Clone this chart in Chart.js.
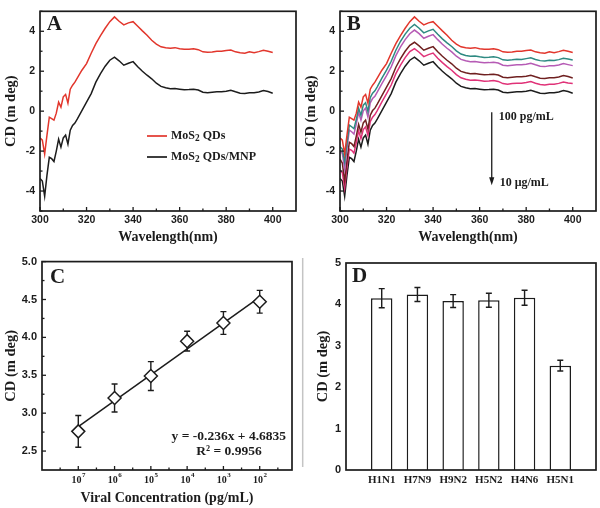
<!DOCTYPE html>
<html><head><meta charset="utf-8">
<script src="https://cdn.jsdelivr.net/npm/chart.js@4.4.1/dist/chart.umd.min.js"></script>
<style>
html,body{margin:0;padding:0;background:#fff;}
#wrap{position:relative;width:600px;height:508px;overflow:hidden;background:#fff;}
canvas{position:absolute;}
</style></head><body>
<div id="wrap">
<canvas id="cA" width="300" height="250" style="left:0;top:0"></canvas>
<canvas id="cB" width="300" height="250" style="left:300px;top:0"></canvas>
<canvas id="cC" width="300" height="258" style="left:0;top:250px"></canvas>
<canvas id="cD" width="300" height="258" style="left:300px;top:250px"></canvas>
</div>
<script>
// ---------- DATA ----------
const wavelengths = [300,301,302,303,304,305,306,307,308,309,310,311,312,313,314,315,316,
  318,320,322,324,326,328,330,332,334,336,338,340,342,344,346,348,350,352,354,356,
  358,360,362,364,366,368,370,372,374,376,378,380,382,384,386,388,390,392,394,396,398,400];

// Panel A / B : CD spectra (m deg)
const mos2QDs = [-1.34,-1.45,-2.15,-1.2,-0.3,-0.37,-0.45,-0.1,0.45,0.2,0.72,0.84,0.4,1.1,1.3,1.45,1.65,
  2.05,2.38,2.9,3.38,3.78,4.15,4.48,4.72,4.5,4.32,
  4.42,4.48,4.25,4.02,3.8,3.55,3.36,3.22,3.17,3.15,
  3.18,3.12,3.1,3.1,3.12,3.08,2.97,2.95,2.96,3.0,
  3.0,3.04,3.06,2.97,2.92,2.9,2.97,2.93,2.98,3.05,
  3.0,2.94];
const mos2QDsMNP = [-3.37,-3.5,-4.26,-3.2,-2.31,-2.38,-2.52,-2.0,-1.4,-1.8,-1.34,-1.2,-1.65,-0.95,-0.72,-0.6,-0.4,
  0.03,0.45,0.88,1.45,1.88,2.25,2.55,2.7,2.52,2.3,
  2.4,2.48,2.22,2.0,1.8,1.62,1.4,1.24,1.17,1.12,
  1.13,1.1,1.07,1.08,1.1,1.06,0.95,0.92,0.95,0.97,
  0.97,1.0,1.05,0.97,0.9,0.88,0.92,0.92,0.96,1.03,
  0.98,0.9];
const cd1e3 = [-1.78,-1.9,-2.55,-1.6,-0.7,-0.78,-0.88,-0.42,0.15,-0.2,0.3,0.42,-0.02,0.68,0.9,1.02,1.22,
  1.65,2.05,2.5,3.05,3.5,3.86,4.15,4.34,4.15,3.92,
  4.02,4.1,3.85,3.62,3.42,3.24,3.02,2.86,2.79,2.75,
  2.76,2.72,2.69,2.7,2.72,2.68,2.57,2.55,2.57,2.6,
  2.59,2.63,2.67,2.59,2.53,2.51,2.55,2.54,2.58,2.65,
  2.61,2.56];
const cd1e4 = [-1.98,-2.12,-2.9,-1.85,-0.95,-1.03,-1.15,-0.65,-0.06,-0.45,0.02,0.15,-0.3,0.42,0.63,0.75,0.95,
  1.38,1.78,2.22,2.78,3.22,3.58,3.88,4.06,3.88,3.65,
  3.75,3.83,3.58,3.35,3.15,2.97,2.75,2.59,2.52,2.47,
  2.48,2.45,2.42,2.43,2.45,2.41,2.3,2.27,2.3,2.32,
  2.32,2.35,2.4,2.32,2.25,2.23,2.27,2.27,2.31,2.38,
  2.33,2.28];
const cd1e5 = [-2.4,-2.6,-3.5,-2.45,-1.56,-1.63,-1.77,-1.25,-0.66,-1.05,-0.59,-0.45,-0.9,-0.2,0.03,0.15,0.35,
  0.78,1.2,1.63,2.2,2.63,3.0,3.3,3.45,3.27,3.05,
  3.15,3.23,2.97,2.75,2.55,2.37,2.15,1.99,1.92,1.87,
  1.88,1.85,1.82,1.83,1.85,1.81,1.7,1.67,1.7,1.72,
  1.72,1.75,1.8,1.72,1.65,1.63,1.67,1.67,1.71,1.78,
  1.73,1.66];
const cd1e6 = [-2.95,-3.08,-3.85,-2.78,-1.9,-1.96,-2.1,-1.57,-0.98,-1.38,-0.92,-0.78,-1.22,-0.52,-0.3,-0.17,0.03,
  0.46,0.88,1.31,1.88,2.31,2.68,2.98,3.13,2.95,2.73,
  2.83,2.91,2.65,2.43,2.23,2.05,1.83,1.67,1.6,1.55,
  1.56,1.53,1.5,1.51,1.53,1.49,1.38,1.35,1.38,1.4,
  1.4,1.43,1.48,1.4,1.33,1.31,1.35,1.35,1.39,1.46,
  1.41,1.38];
const seriesLabelsA = ['MoS2 QDs', 'MoS2 QDs/MNP'];
const specXTicks = [300,320,340,360,380,400];
const specXMinor = [310,330,350,370,390];
const specYTicks = [-4,-2,0,2,4];
const specYMinor = [-5,-3,-1,1,3,5];
const arrowLabelsB = ['100 pg/mL', '10 \u03bcg/mL'];

// Panel C : calibration
const concExponents = [7,6,5,4,3,2];
const cdByConc = [2.76,3.20,3.49,3.95,4.19,4.47];
const cdByConcErr = [0.21,0.185,0.19,0.13,0.15,0.15];
const cYTicks = [2.5,3.0,3.5,4.0,4.5,5.0];
const equationText = ['y = -0.236x + 4.6835', 'R\u00b2 = 0.9956'];

// Panel D : selectivity
const subtypes = ['H1N1','H7N9','H9N2','H5N2','H4N6','H5N1'];
const cdBySubtype = [4.15,4.24,4.08,4.10,4.16,2.52];
const cdBySubtypeErr = [0.23,0.17,0.155,0.17,0.18,0.13];
const dYTicks = [0,1,2,3,4,5];

// ---------- STYLE ----------
const SERIF = "'Liberation Serif', 'Times New Roman', serif";
const SANS = "'Liberation Sans', Arial, sans-serif";
const INK = '#1c1c1c';
const COLORS_B = ['#e2362c', '#2e8a82', '#b65bb5', '#6f2020', '#e03278', INK];

const pts = arr => arr.map((v, i) => ({x: wavelengths[i], y: v}));
const NOGRID = {display: false, drawTicks: false, tickLength: 0};

function makeBox(cfg) {
  return {
    id: 'axisBox',
    afterDatasetsDraw(chart) {
      const {ctx, chartArea: a, scales: {x, y}} = chart;
      ctx.save();
      ctx.strokeStyle = INK; ctx.lineWidth = 1.3;
      const tx = (vals, len) => (vals || []).forEach(v => { const p = x.getPixelForValue(v); ctx.beginPath(); ctx.moveTo(p, a.bottom); ctx.lineTo(p, a.bottom - len); ctx.stroke(); });
      const ty = (vals, len) => (vals || []).forEach(v => { const p = y.getPixelForValue(v); ctx.beginPath(); ctx.moveTo(a.left, p); ctx.lineTo(a.left + len, p); ctx.stroke(); });
      tx(cfg.xMajor, 4); tx(cfg.xMinor, 2.5); ty(cfg.yMajor, 4); ty(cfg.yMinor, 2.5);
      ctx.lineWidth = 1.7;
      ctx.strokeRect(a.left, a.top, a.right - a.left, a.bottom - a.top);
      ctx.fillStyle = INK; ctx.font = 'bold 21px ' + SERIF; ctx.textBaseline = 'alphabetic'; ctx.textAlign = 'left';
      ctx.fillText(cfg.letter, a.left + cfg.dx, a.top + cfg.dy);
      ctx.restore();
    }
  };
}

function makeErr(xs, ys, errs, cap, layer) {
  const draw = chart => {
    const {ctx, scales: {x, y}} = chart;
    ctx.save(); ctx.strokeStyle = INK; ctx.lineWidth = 1.4;
    xs.forEach((xv, i) => {
      const px = x.getPixelForValue(xv);
      const t = y.getPixelForValue(ys[i] + errs[i]), b = y.getPixelForValue(ys[i] - errs[i]);
      ctx.beginPath();
      ctx.moveTo(px, t); ctx.lineTo(px, b);
      ctx.moveTo(px - cap, t); ctx.lineTo(px + cap, t);
      ctx.moveTo(px - cap, b); ctx.lineTo(px + cap, b);
      ctx.stroke();
    });
    ctx.restore();
  };
  return layer === 'before' ? {id: 'errB', beforeDatasetsDraw: draw} : {id: 'errA', afterDatasetsDraw: draw};
}

function drawChem(ctx, text, x, y, size) {
  text.split(/(\d)/).forEach(part => {
    if (!part) return;
    if (/^\d$/.test(part)) {
      ctx.font = 'bold ' + (size * 0.78) + 'px ' + SERIF;
      ctx.fillText(part, x, y + 3);
    } else {
      ctx.font = 'bold ' + size + 'px ' + SERIF;
      ctx.fillText(part, x, y);
    }
    x += ctx.measureText(part).width;
  });
}

const tickFont = size => ({family: SANS, weight: 'bold', size: size});
const titleFont = size => ({family: SERIF, weight: 'bold', size: size});

function spectrumOptions() {
  return {
    responsive: false, animation: false, devicePixelRatio: 1,
    layout: {padding: {left: 0, top: 4, right: 4, bottom: 0}},
    plugins: {legend: {display: false}, tooltip: {enabled: false}},
    elements: {point: {radius: 0}, line: {borderWidth: 1.5, tension: 0}},
    scales: {
      x: {type: 'linear', min: 300, max: 410,
        afterFit: s => { s.height = 39; },
        afterBuildTicks: s => { s.ticks = specXTicks.map(v => ({value: v})); },
        grid: NOGRID, border: {display: false},
        ticks: {font: tickFont(10.5), color: INK, padding: 3, maxRotation: 0, autoSkip: false},
        title: {display: true, text: 'Wavelength(nm)', font: titleFont(14), color: INK, padding: {top: 0, bottom: 4}}},
      y: {type: 'linear', min: -5, max: 5,
        afterFit: s => { s.width = 40; },
        afterBuildTicks: s => { s.ticks = specYTicks.map(v => ({value: v})); },
        grid: NOGRID, border: {display: false},
        ticks: {font: tickFont(10.5), color: INK, padding: 5},
        title: {display: true, text: 'CD (m deg)', font: titleFont(14.5), color: INK, padding: {top: 3, bottom: 0}}}
    }
  };
}

// ---------- PANEL A ----------
const legendA = {
  id: 'legendA',
  afterDraw(chart) {
    const ctx = chart.ctx;
    ctx.save();
    ctx.textBaseline = 'middle'; ctx.textAlign = 'left'; ctx.fillStyle = INK;
    chart.data.datasets.forEach((ds, i) => {
      const y = 136 + i * 21;
      ctx.strokeStyle = ds.borderColor; ctx.lineWidth = 1.7;
      ctx.beginPath(); ctx.moveTo(147, y); ctx.lineTo(167, y); ctx.stroke();
      drawChem(ctx, ds.label, 171, y, 12);
    });
    ctx.restore();
  }
};
new Chart(document.getElementById('cA'), {
  type: 'line',
  data: {datasets: [
    {label: seriesLabelsA[0], data: pts(mos2QDs), borderColor: COLORS_B[0]},
    {label: seriesLabelsA[1], data: pts(mos2QDsMNP), borderColor: INK}
  ]},
  options: spectrumOptions(),
  plugins: [makeBox({xMajor: specXTicks, xMinor: specXMinor, yMajor: specYTicks, yMinor: specYMinor, letter: 'A', dx: 6.7, dy: 19}), legendA]
});

// ---------- PANEL B ----------
const arrowB = {
  id: 'arrowB',
  afterDraw(chart) {
    const {ctx, scales: {x, y}} = chart;
    const px = x.getPixelForValue(365.2);
    const y1 = y.getPixelForValue(-0.05), y2 = y.getPixelForValue(-3.71);
    ctx.save();
    ctx.strokeStyle = INK; ctx.fillStyle = INK; ctx.lineWidth = 1.3;
    ctx.beginPath(); ctx.moveTo(px, y1); ctx.lineTo(px, y2 - 6); ctx.stroke();
    ctx.beginPath(); ctx.moveTo(px - 2.6, y2 - 8); ctx.lineTo(px + 2.6, y2 - 8); ctx.lineTo(px, y2); ctx.closePath(); ctx.fill();
    ctx.font = 'bold 12px ' + SERIF; ctx.textBaseline = 'middle'; ctx.textAlign = 'left';
    ctx.fillText(arrowLabelsB[0], px + 7, y1 + 5);
    ctx.fillText(arrowLabelsB[1], px + 8, y2 - 2);
    ctx.restore();
  }
};
new Chart(document.getElementById('cB'), {
  type: 'line',
  data: {datasets: [mos2QDs, cd1e3, cd1e4, cd1e5, cd1e6, mos2QDsMNP].map((arr, i) => ({
    label: 'B' + i, data: pts(arr), borderColor: COLORS_B[i]
  }))},
  options: spectrumOptions(),
  plugins: [makeBox({xMajor: specXTicks, xMinor: specXMinor, yMajor: specYTicks, yMinor: specYMinor, letter: 'B', dx: 6.7, dy: 19}), arrowB]
});

// ---------- PANEL C ----------
const cx = concExponents.map(e => -e);
const n = cx.length;
const mx = cx.reduce((s, v) => s + v, 0) / n, my = cdByConc.reduce((s, v) => s + v, 0) / n;
let sxy = 0, sxx = 0;
cx.forEach((v, i) => { sxy += (v - mx) * (cdByConc[i] - my); sxx += (v - mx) * (v - mx); });
const slope = sxy / sxx, icpt = my - slope * mx;
const fitPts = [cx[0], cx[n - 1]].map(v => ({x: v, y: icpt + slope * v}));

const labelsC = {
  id: 'labelsC',
  afterDraw(chart) {
    const {ctx, chartArea: a, scales: {x}} = chart;
    ctx.save(); ctx.fillStyle = INK; ctx.textBaseline = 'alphabetic'; ctx.textAlign = 'left';
    concExponents.forEach(e => {
      const px = x.getPixelForValue(-e);
      ctx.font = 'bold 10px ' + SERIF; const w1 = ctx.measureText('10').width;
      ctx.font = 'bold 7px ' + SERIF; const w2 = ctx.measureText(String(e)).width;
      const s = px - (w1 + w2) / 2;
      ctx.font = 'bold 10px ' + SERIF; ctx.fillText('10', s, a.bottom + 12.5);
      ctx.font = 'bold 7px ' + SERIF; ctx.fillText(String(e), s + w1 + 0.5, a.bottom + 6.5);
    });
    ctx.font = 'bold 13.5px ' + SERIF; ctx.textBaseline = 'middle';
    ctx.textAlign = 'right'; ctx.fillText(equationText[0], 286, 186.7);
    ctx.textAlign = 'center'; ctx.fillText(equationText[1], 229, 201.7);
    ctx.restore();
  }
};
new Chart(document.getElementById('cC'), {
  type: 'scatter',
  data: {datasets: [
    {label: 'CD', data: cx.map((v, i) => ({x: v, y: cdByConc[i]})), pointStyle: 'rectRot', pointRadius: 6.5,
      pointBackgroundColor: '#fff', pointBorderColor: INK, pointBorderWidth: 1.5, showLine: false},
    {label: 'fit', data: fitPts, type: 'line', borderColor: INK, borderWidth: 1.5, pointRadius: 0}
  ]},
  options: {
    responsive: false, animation: false, devicePixelRatio: 1,
    layout: {padding: {left: 0, top: 11, right: 4, bottom: 0}},
    plugins: {legend: {display: false}, tooltip: {enabled: false}},
    scales: {
      x: {type: 'linear', min: -8, max: -1.11,
        afterFit: s => { s.height = 38; },
        grid: NOGRID, border: {display: false},
        ticks: {display: false},
        title: {display: true, text: 'Viral Concentration (pg/mL)', font: titleFont(14), color: INK, padding: {top: 0, bottom: 1}}},
      y: {type: 'linear', min: 2.25, max: 5.0,
        afterFit: s => { s.width = 42; },
        afterBuildTicks: s => { s.ticks = cYTicks.map(v => ({value: v})); },
        grid: NOGRID, border: {display: false},
        ticks: {font: tickFont(11), color: INK, padding: 5, callback: v => Number(v).toFixed(1)},
        title: {display: true, text: 'CD (m deg)', font: titleFont(14.5), color: INK, padding: {top: 3, bottom: 0}}}
    }
  },
  plugins: [makeErr(cx, cdByConc, cdByConcErr, 3, 'before'),
    makeBox({xMajor: cx, xMinor: [-7.5, -6.5, -5.5, -4.5, -3.5, -2.5, -1.5], yMajor: cYTicks, yMinor: [2.75, 3.25, 3.75, 4.25, 4.75], letter: 'C', dx: 8, dy: 21}),
    labelsC]
});

// ---------- PANEL D ----------
const catLabelsD = [''].concat(subtypes, ['']);
const artifactD = {
  id: 'artifactD',
  afterDraw(chart) {
    const ctx = chart.ctx;
    ctx.save(); ctx.strokeStyle = '#c4c4c4'; ctx.lineWidth = 1.5;
    ctx.beginPath(); ctx.moveTo(2.7, 8); ctx.lineTo(2.7, 217); ctx.stroke();
    ctx.restore();
  }
};
new Chart(document.getElementById('cD'), {
  type: 'bar',
  data: {labels: catLabelsD, datasets: [{
    label: 'CD', data: [null].concat(cdBySubtype, [null]),
    backgroundColor: '#fff', borderColor: INK, borderWidth: 1.5,
    barPercentage: 0.6, categoryPercentage: 1
  }]},
  options: {
    responsive: false, animation: false, devicePixelRatio: 1,
    layout: {padding: {left: 0, top: 13, right: 4, bottom: 0}},
    plugins: {legend: {display: false}, tooltip: {enabled: false}},
    scales: {
      x: {type: 'category', offset: false,
        afterFit: s => { s.height = 38; },
        grid: NOGRID, border: {display: false},
        ticks: {font: {family: SERIF, weight: 'bold', size: 11}, color: INK, padding: 4, maxRotation: 0, autoSkip: false}},
      y: {type: 'linear', min: 0, max: 5,
        afterFit: s => { s.width = 46; },
        afterBuildTicks: s => { s.ticks = dYTicks.map(v => ({value: v})); },
        grid: NOGRID, border: {display: false},
        ticks: {font: tickFont(11), color: INK, padding: 5},
        title: {display: true, text: 'CD (m deg)', font: titleFont(14.5), color: INK, padding: {top: 15, bottom: 0}}}
    }
  },
  plugins: [makeErr([1, 2, 3, 4, 5, 6], cdBySubtype, cdBySubtypeErr, 3, 'after'),
    makeBox({letter: 'D', dx: 6, dy: 19}), artifactD]
});
</script>
</body></html>
